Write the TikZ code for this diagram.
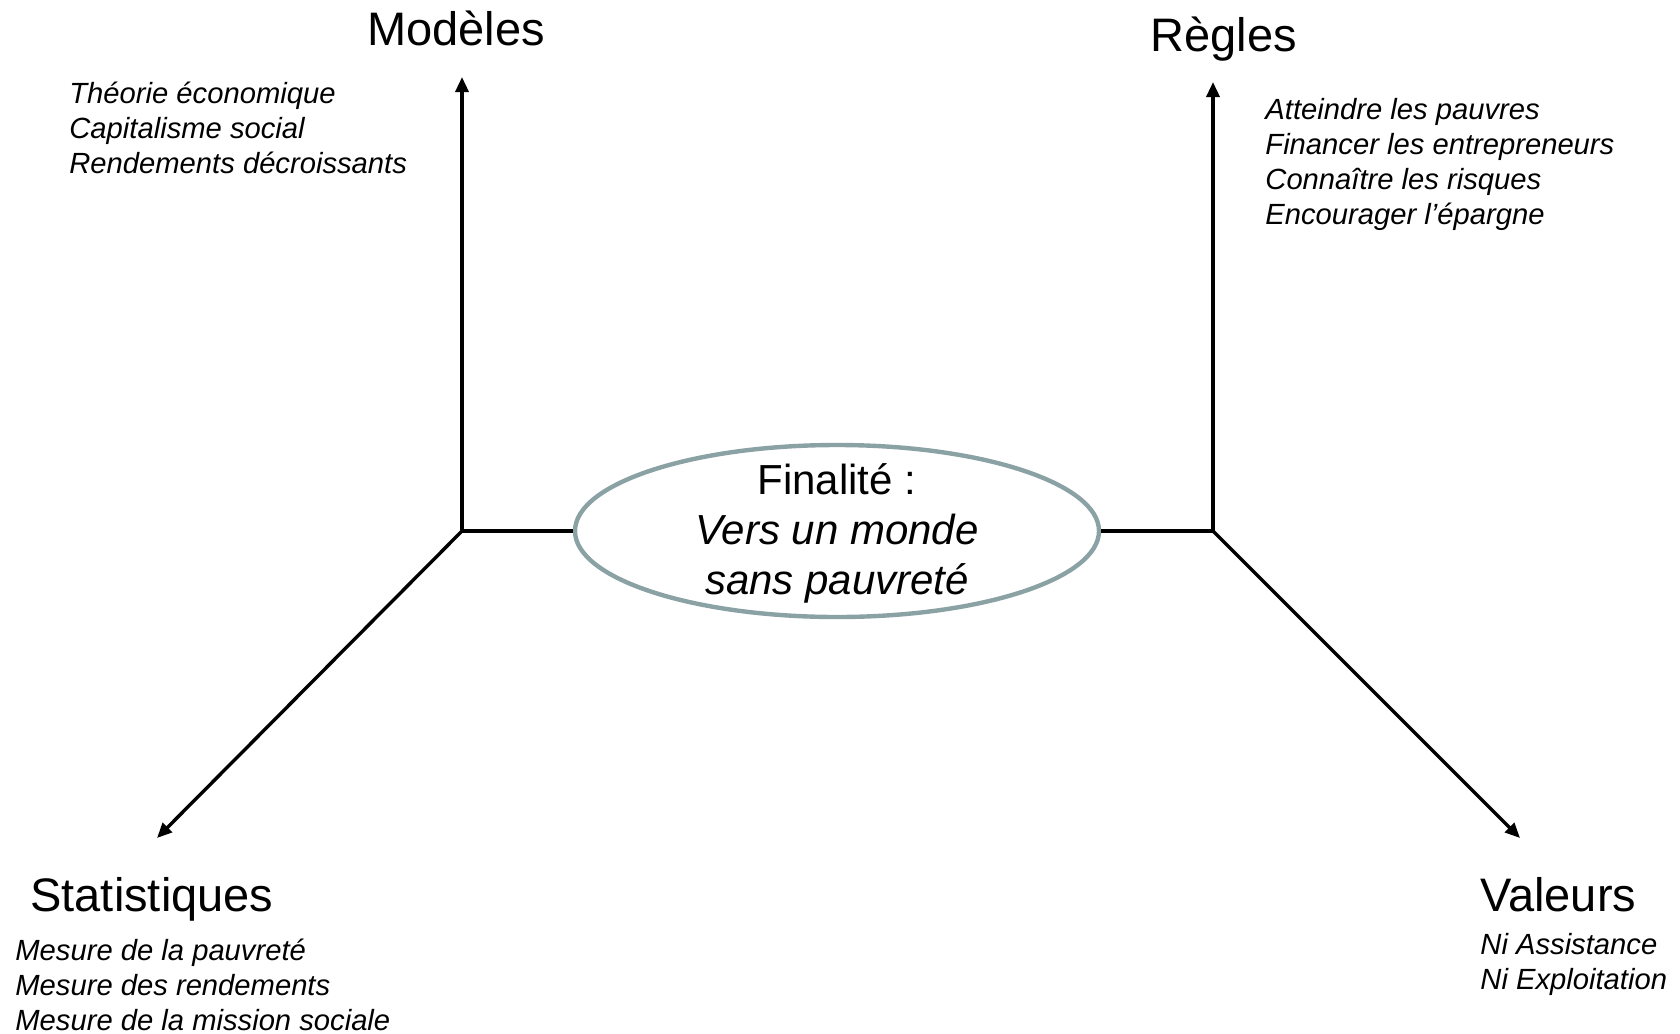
\documentclass[tikz,border=0pt]{standalone}
\usepackage{fontspec}
\setmainfont{Liberation Sans}
\usetikzlibrary{shapes.geometric,arrows.meta}
\definecolor{goalcol}{RGB}{138,162,164}
\begin{document}
\begin{tikzpicture}[x=0.5pt,y=-0.5pt,
  axis/.style={line width=1.7pt,black},
  arr/.style={axis,-{Triangle[length=7.5pt,width=6.5pt]}},
  title/.style={inner sep=0pt,anchor=base west,font=\fontsize{23.5}{28}\selectfont},
  items/.style={inner sep=0pt,anchor=base west,align=left,font=\fontsize{14.6}{17.5}\selectfont\itshape},
  goal/.style={ellipse,draw=goalcol,line width=2.2pt,minimum width=262pt,minimum height=86pt,inner sep=0pt},
  goaltext/.style={inner sep=0pt,align=center,font=\fontsize{21}{25}\selectfont}
]
\useasboundingbox (0,0) rectangle (1680,1033);
\coordinate (jl) at (462,531);
\coordinate (jr) at (1213,531);
\coordinate (mt) at (462,77);
\coordinate (rt) at (1213,82);
\coordinate (sb) at (157,838);
\coordinate (vb) at (1520,838);
\node[goal] (fin) at (837,531) {};
\node[goaltext] (fint) at (837,533) {Finalité :\\\itshape Vers un monde\\\itshape sans pauvreté};
\draw[arr] (fin.west) -- (jl) -- (mt);
\draw[arr] (jl) -- (sb);
\draw[arr] (fin.east) -- (jr) -- (rt);
\draw[arr] (jr) -- (vb);
\node[title] (mod) at (367,45) {Modèles};
\node[items] (modl) at (69,173) {Théorie économique\\Capitalisme social\\Rendements décroissants};
\node[title] (reg) at (1150,51) {Règles};
\node[items] (regl) at (1265,224) {Atteindre les pauvres\\Financer les entrepreneurs\\Connaître les risques\\Encourager l’épargne};
\node[title] (stat) at (30,911) {Statistiques};
\node[items] (statl) at (15,1030) {Mesure de la pauvreté\\Mesure des rendements\\Mesure de la mission sociale};
\node[title] (val) at (1480,911) {Valeurs};
\node[items] (vall) at (1480,989) {Ni Assistance\\Ni Exploitation};
\end{tikzpicture}
\end{document}
